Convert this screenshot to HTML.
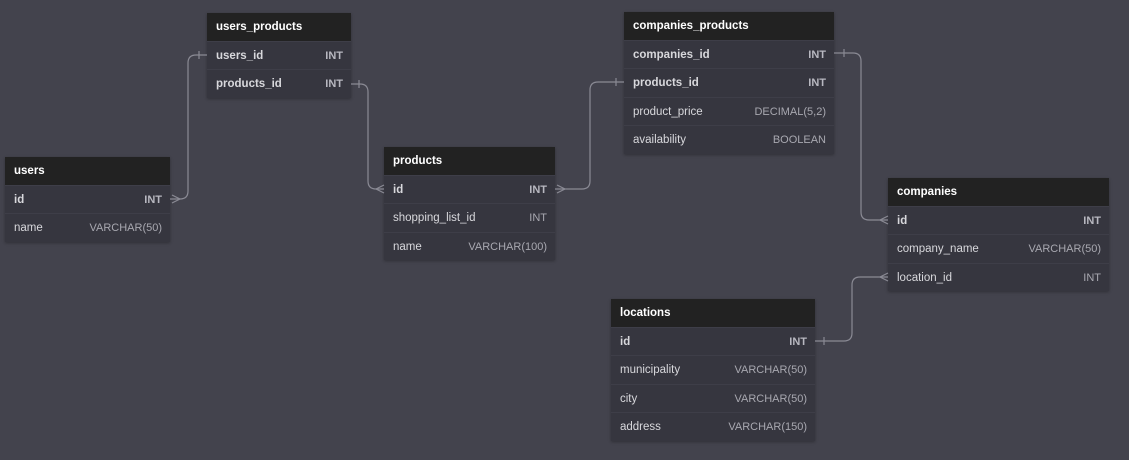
<!DOCTYPE html>
<html><head><meta charset="utf-8"><style>
body{margin:0;width:1129px;height:460px;background:#43434d;font-family:"Liberation Sans","DejaVu Sans",sans-serif;position:relative;overflow:hidden}
.t{position:absolute;background:#36363f;box-shadow:0 1px 3px rgba(0,0,0,.3)}
.h{height:28px;background:#222;color:#fff;font-weight:bold;font-size:11.5px;line-height:28px;padding-left:9px}
.r{height:28.4px;line-height:28px;font-size:11.5px;color:#d8d8dc;padding:0 8px 0 9px;display:flex;justify-content:space-between;border-top:1px solid #3e3e48;box-sizing:border-box}
.r span:last-child{color:#a8a8b0;font-size:11px}
.k{font-weight:bold}
.k span:last-child{color:#b8b8c0}
svg{position:absolute;left:0;top:0}
</style></head><body>
<div class="t" style="left:207px;top:13px;width:144px"><div class="h">users_products</div><div class="r k"><span>users_id</span><span>INT</span></div><div class="r k"><span>products_id</span><span>INT</span></div></div>
<div class="t" style="left:5px;top:157px;width:165px"><div class="h">users</div><div class="r k"><span>id</span><span>INT</span></div><div class="r"><span>name</span><span>VARCHAR(50)</span></div></div>
<div class="t" style="left:384px;top:147px;width:171px"><div class="h">products</div><div class="r k"><span>id</span><span>INT</span></div><div class="r"><span>shopping_list_id</span><span>INT</span></div><div class="r"><span>name</span><span>VARCHAR(100)</span></div></div>
<div class="t" style="left:624px;top:12px;width:210px"><div class="h">companies_products</div><div class="r k"><span>companies_id</span><span>INT</span></div><div class="r k"><span>products_id</span><span>INT</span></div><div class="r"><span>product_price</span><span>DECIMAL(5,2)</span></div><div class="r"><span>availability</span><span>BOOLEAN</span></div></div>
<div class="t" style="left:888px;top:178px;width:221px"><div class="h">companies</div><div class="r k"><span>id</span><span>INT</span></div><div class="r"><span>company_name</span><span>VARCHAR(50)</span></div><div class="r"><span>location_id</span><span>INT</span></div></div>
<div class="t" style="left:611px;top:299px;width:204px"><div class="h">locations</div><div class="r k"><span>id</span><span>INT</span></div><div class="r"><span>municipality</span><span>VARCHAR(50)</span></div><div class="r"><span>city</span><span>VARCHAR(50)</span></div><div class="r"><span>address</span><span>VARCHAR(150)</span></div></div>
<svg width="1129" height="460" fill="none" stroke="#8a8a94" stroke-width="1.2">
<path d="M170,199 H180 Q188,199 188,191 V63 Q188,55 196,55 H207"/>
<path d="M199,51 V59"/><path d="M172,195 L180,199 L172,203"/>
<path d="M351,84 H360 Q368,84 368,92 V181 Q368,189 376,189 H384"/>
<path d="M359,80 V88"/><path d="M384,185 L376,189 L384,193"/>
<path d="M555,189 H582 Q590,189 590,181 V90 Q590,82 598,82 H624"/>
<path d="M557,185 L565,189 L557,193"/><path d="M616,78 V86"/>
<path d="M834,53 H853 Q861,53 861,61 V212 Q861,220 869,220 H888"/>
<path d="M844,49 V57"/><path d="M888,216 L880,220 L888,224"/>
<path d="M815,341 H844 Q852,341 852,333 V285 Q852,277 860,277 H888"/>
<path d="M824,337 V345"/><path d="M888,273 L880,277 L888,281"/>
</svg>
</body></html>
